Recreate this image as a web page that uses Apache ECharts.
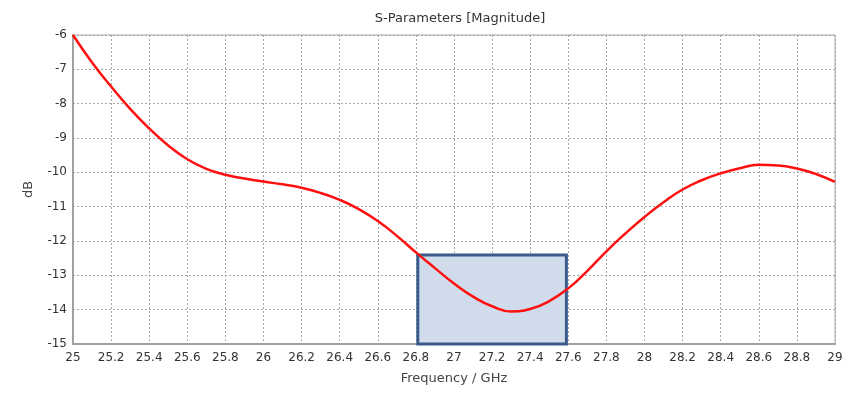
<!DOCTYPE html>
<html>
<head>
<meta charset="utf-8">
<script src="https://cdn.jsdelivr.net/npm/echarts@6/dist/echarts.min.js"></script>
<style>html,body{margin:0;padding:0;background:#fff;}#c{width:856px;height:393px;}</style>
</head>
<body>
<div id="c"></div>
<script>
const freqs = [25,25.1,25.2,25.3,25.4,25.5,25.6,25.7,25.8,25.9,26,26.1,26.2,26.3,26.4,26.5,26.6,26.7,26.8,26.9,27,27.1,27.2,27.3,27.4,27.5,27.6,27.7,27.8,27.9,28,28.1,28.2,28.3,28.4,28.5,28.6,28.7,28.8,28.9,29];
const sParam = [-6,-6.8,-7.5,-8.15,-8.72,-9.22,-9.62,-9.9,-10.07,-10.18,-10.27,-10.35,-10.45,-10.6,-10.8,-11.07,-11.42,-11.85,-12.33,-12.79,-13.24,-13.62,-13.9,-14.05,-13.98,-13.75,-13.38,-12.87,-12.3,-11.78,-11.3,-10.87,-10.5,-10.23,-10.03,-9.88,-9.78,-9.8,-9.89,-10.05,-10.28];
const boxFreq = [26.81, 27.59];
const boxDb = [-12.41, -15];
const titleText = 'S-Parameters [Magnitude]';
const xName = 'Frequency / GHz';
const yName = 'dB';

const chart = echarts.init(document.getElementById('c'));
const font = 'DejaVu Sans';
chart.setOption({
  animation: false,
  title: { text: titleText, left: 455, top: 7, textAlign: 'center',
    textStyle: { fontFamily: font, fontSize: 13, fontWeight: 'normal', color: '#333' } },
  grid: { left: 73, right: 21, top: 35, bottom: 49, show: true, borderColor: '#a8a8a8', borderWidth: 1 },
  xAxis: {
    type: 'value', min: 25, max: 29, interval: 0.2,
    name: xName, nameLocation: 'middle', nameGap: 28,
    nameTextStyle: { fontFamily: font, fontSize: 13, color: '#444' },
    axisLine: { lineStyle: { color: '#a0a0a0', width: 2 } },
    axisTick: { show: false },
    axisLabel: { fontFamily: font, fontSize: 12, color: '#333', margin: 8,
      formatter: v => String(Math.round(v * 10) / 10) },
    splitLine: { lineStyle: { color: '#a8a8a8', type: [2, 2], width: 1 } }
  },
  yAxis: {
    type: 'value', min: -15, max: -6, interval: 1,
    name: yName, nameLocation: 'middle', nameGap: 38,
    nameTextStyle: { fontFamily: font, fontSize: 13, color: '#444' },
    axisLine: { show: true, lineStyle: { color: '#a0a0a0', width: 2 } },
    axisTick: { show: false },
    axisLabel: { fontFamily: font, fontSize: 12, color: '#333', margin: 6 },
    splitLine: { lineStyle: { color: '#a8a8a8', type: [2, 2], width: 1 } }
  },
  series: [{
    type: 'line',
    data: freqs.map((f, i) => [f, sParam[i]]),
    smooth: 0.5,
    showSymbol: false,
    lineStyle: { color: '#ff1010', width: 2.5 },
    z: 5,
    markArea: {
      silent: true,
      itemStyle: { color: '#d0dcec', borderColor: '#3a5b8c', borderWidth: 3 },
      data: [[{ coord: [boxFreq[0], boxDb[0]] }, { coord: [boxFreq[1], boxDb[1]] }]]
    }
  }]
});
</script>
</body>
</html>
